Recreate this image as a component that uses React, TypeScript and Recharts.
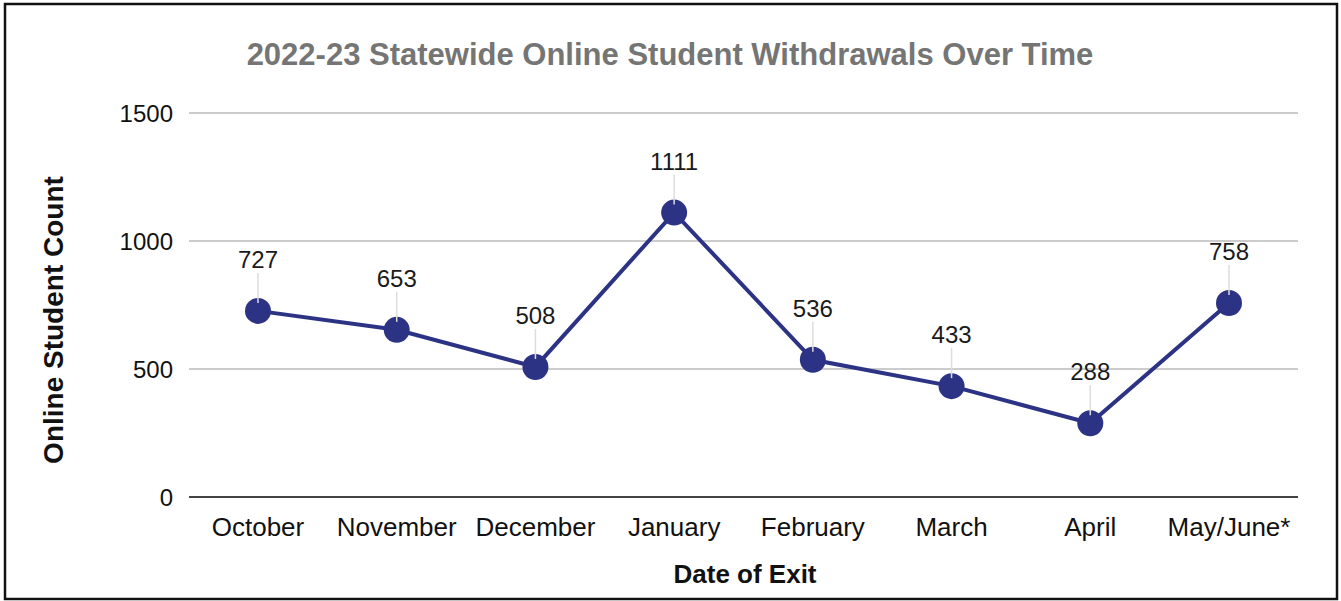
import { CartesianGrid, LabelList, Line, LineChart, XAxis, YAxis } from "recharts"

const months = ["October", "November", "December", "January", "February", "March", "April", "May/June*"]
const withdrawals = [727, 653, 508, 1111, 536, 433, 288, 758]
const yTicks = [0, 500, 1000, 1500]

const data = months.map((month, i) => ({ month, count: withdrawals[i] }))

const NAVY = "#2d3384"
const FONT = "'Liberation Sans', Arial, sans-serif"

// value label with a thin leader line up from the dot
function PointLabel(props: any) {
  const { x, y, value } = props
  if (x == null || y == null) return null
  return (
    <g>
      <line x1={x} x2={x} y1={y - 8} y2={y - 38} stroke="#dddddd" strokeWidth={1.5} />
      <text x={x} y={y - 43} textAnchor="middle" fontSize={24} fill="#1a1a1a" fontFamily={FONT}>
        {value}
      </text>
    </g>
  )
}

export default function App() {
  return (
    <div style={{ position: "fixed", left: 0, top: 0, width: 1341, height: 601, background: "#fff" }}>
      <div style={{ position: "absolute", left: 0, top: 0 }}>
        <LineChart width={1341} height={601} data={data} margin={{ top: 113, right: 43, bottom: 0, left: 0 }}>
          <CartesianGrid vertical={false} stroke="#cccccc" strokeWidth={2} />
          <XAxis
            dataKey="month"
            height={104}
            tickSize={0}
            tickMargin={21}
            padding={{ left: 69, right: 69 }}
            axisLine={{ stroke: "#444", strokeWidth: 2 }}
            tick={{ fill: "#111", fontSize: 26, fontFamily: FONT }}
            interval={0}
          />
          <YAxis
            width={189}
            domain={[0, 1500]}
            ticks={yTicks}
            tickSize={0}
            tickMargin={16}
            axisLine={false}
            tick={{ fill: "#111", fontSize: 24, fontFamily: FONT }}
          />
          <Line
            dataKey="count"
            stroke={NAVY}
            strokeWidth={4}
            dot={{ r: 13, fill: NAVY, stroke: NAVY, strokeWidth: 0 }}
            isAnimationActive={false}
          >
            <LabelList dataKey="count" content={<PointLabel />} />
          </Line>
        </LineChart>
      </div>
      <svg width={1341} height={601} style={{ position: "absolute", left: 0, top: 0, pointerEvents: "none" }}>
        <rect x={5} y={4} width={1332} height={595} fill="none" stroke="#111" strokeWidth={2.5} />
        <text x={670} y={65} textAnchor="middle" fontSize={31} fontWeight={700} fill="#757575" fontFamily={FONT}>
          2022-23 Statewide Online Student Withdrawals Over Time
        </text>
        <text x={745} y={583} textAnchor="middle" fontSize={26} fontWeight={700} fill="#111" fontFamily={FONT}>
          Date of Exit
        </text>
        <text
          x={63}
          y={320}
          textAnchor="middle"
          fontSize={28}
          fontWeight={700}
          fill="#111"
          fontFamily={FONT}
          transform="rotate(-90 63 320)"
        >
          Online Student Count
        </text>
      </svg>
    </div>
  )
}
